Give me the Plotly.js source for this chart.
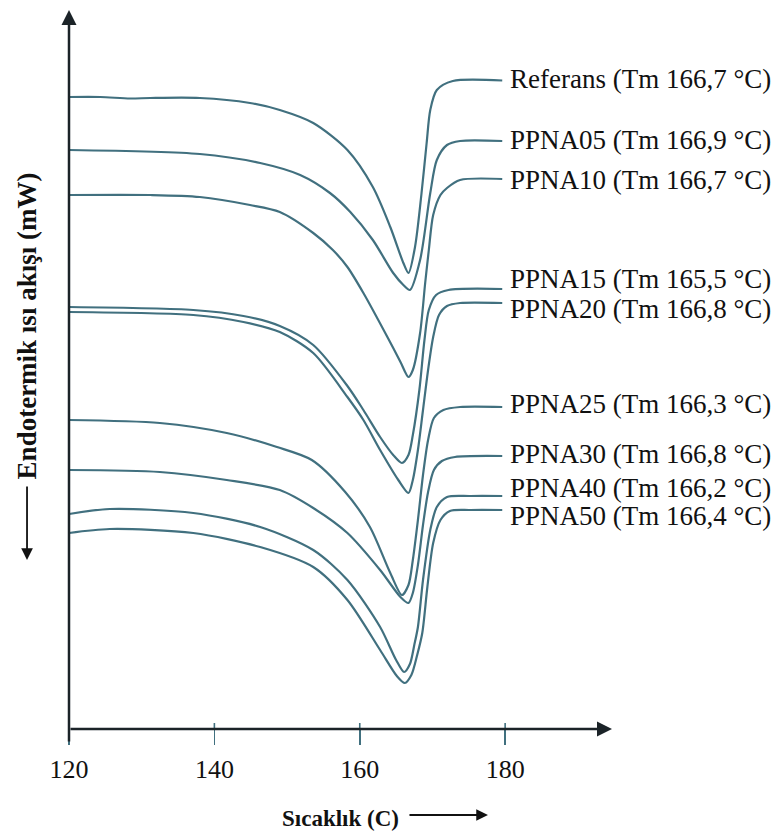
<!DOCTYPE html>
<html>
<head>
<meta charset="utf-8">
<script src="https://cdn.plot.ly/plotly-3.0.1.min.js"></script>
<style>html,body{margin:0;padding:0;background:#fff;}</style>
</head>
<body>
<div id="chart" style="width:783px;height:831px;"></div>
<script>
// ---- data (temperature in °C, heat flow in arbitrary mW offset units) ----
const sampleNames = ["Referans", "PPNA05", "PPNA10", "PPNA15", "PPNA20", "PPNA25", "PPNA30", "PPNA40", "PPNA50"];
const meltingPoints = [166.7, 166.9, 166.7, 165.5, 166.8, 166.3, 166.8, 166.2, 166.4];
const xTickValues = [120, 140, 160, 180];

const tReferans = [120.0, 124.3, 128.4, 131.2, 138.0, 144.9, 149.0, 153.6, 158.3, 161.8, 164.2, 166.0, 166.7, 167.6, 168.5, 169.2, 169.7, 170.6, 172.8, 179.6];
const yReferans = [63.2, 63.2, 63.05, 63.1, 63.1, 62.6, 61.9, 60.6, 57.9, 54.2, 50.2, 46.6, 45.6, 48.2, 53.6, 58.6, 61.9, 63.9, 64.8, 64.85];

const tPPNA05 = [120.0, 138.0, 146.3, 151.8, 155.9, 158.7, 161.8, 164.6, 166.0, 166.9, 168.3, 169.7, 170.6, 172.0, 173.8, 179.6];
const yPPNA05 = [57.9, 57.5, 56.6, 55.4, 53.6, 51.7, 48.9, 45.6, 44.4, 43.9, 46.9, 53.6, 56.9, 58.4, 58.8, 58.8];

const tPPNA10 = [120.0, 131.2, 138.0, 144.9, 149.0, 153.6, 156.3, 158.3, 160.5, 163.8, 165.6, 166.7, 167.3, 168.3, 169.0, 169.5, 170.1, 171.1, 172.0, 173.8, 179.6];
const yPPNA10 = [53.4, 53.4, 53.2, 52.4, 51.7, 49.6, 47.9, 46.2, 43.6, 39.2, 36.7, 35.2, 35.9, 39.6, 44.6, 47.9, 51.4, 53.4, 54.1, 54.9, 55.0];

const tPPNA15 = [120.0, 137.1, 144.0, 149.0, 153.6, 158.3, 160.5, 162.8, 164.6, 165.8, 166.7, 167.3, 168.2, 168.9, 169.5, 170.5, 172.2, 179.6];
const yPPNA15 = [42.2, 41.9, 41.3, 40.3, 38.4, 34.3, 31.9, 29.2, 27.4, 26.6, 27.4, 29.4, 33.9, 38.9, 41.9, 43.4, 43.9, 44.0];

const tPPNA20 = [120.0, 137.1, 144.0, 149.0, 153.6, 158.3, 160.5, 162.8, 165.3, 166.7, 167.3, 168.0, 168.7, 169.4, 170.1, 170.9, 172.0, 173.8, 179.6];
const yPPNA20 = [41.7, 41.4, 40.7, 39.7, 37.6, 33.2, 30.9, 27.9, 24.9, 23.6, 24.9, 27.9, 31.9, 35.9, 39.2, 41.4, 42.3, 42.6, 42.6];

const tPPNA25 = [120.0, 132.5, 141.7, 148.6, 153.4, 158.0, 161.4, 164.2, 165.8, 166.7, 167.3, 168.0, 168.7, 169.4, 170.2, 171.5, 173.8, 179.6];
const yPPNA25 = [30.9, 30.6, 29.6, 28.2, 26.9, 23.7, 20.2, 15.6, 13.4, 14.4, 16.9, 20.9, 25.4, 28.9, 31.1, 31.9, 32.2, 32.2];

const tPPNA30 = [120.0, 132.5, 141.7, 149.0, 153.6, 158.3, 162.8, 165.6, 166.7, 167.3, 168.0, 168.7, 169.4, 170.2, 171.3, 173.1, 179.6];
const yPPNA30 = [25.9, 25.7, 24.9, 23.9, 22.1, 19.6, 15.9, 13.2, 12.6, 13.6, 16.4, 20.4, 23.7, 25.9, 26.8, 27.2, 27.3];

const tPPNA40 = [120.0, 125.6, 137.1, 146.3, 153.6, 158.3, 162.8, 165.0, 166.1, 166.9, 167.5, 168.0, 168.7, 169.7, 170.6, 172.0, 175.2, 179.6];
const yPPNA40 = [21.5, 22.0, 21.6, 20.2, 17.9, 14.9, 10.2, 6.9, 5.7, 6.5, 8.4, 10.2, 14.9, 19.9, 22.2, 23.2, 23.3, 23.3];

const tPPNA50 = [120.0, 125.6, 137.1, 146.3, 153.6, 158.3, 162.8, 165.1, 166.2, 167.1, 167.9, 168.6, 169.3, 170.1, 171.1, 172.4, 175.2, 179.6];
const yPPNA50 = [19.6, 20.0, 19.6, 18.2, 16.2, 12.9, 7.9, 5.3, 4.6, 5.4, 7.4, 9.6, 14.2, 18.6, 20.9, 21.8, 21.9, 21.9];

// ---- layout helpers (vertical positions of the right-hand labels, in y units) ----
const labelPos = [65.0, 58.9, 54.9, 45.05, 42.05, 32.5, 27.5, 24.1, 21.3];

const tSeries = [tReferans, tPPNA05, tPPNA10, tPPNA15, tPPNA20, tPPNA25, tPPNA30, tPPNA40, tPPNA50];
const ySeries = [yReferans, yPPNA05, yPPNA10, yPPNA15, yPPNA20, yPPNA25, yPPNA30, yPPNA40, yPPNA50];

const lineColor = '#41707f';
const axisColor = '#1b2328';
const serif = 'Liberation Serif, Times New Roman, serif';

const traces = sampleNames.map((n, i) => ({
  type: 'scatter', mode: 'lines', name: n,
  x: tSeries[i], y: ySeries[i],
  line: {color: lineColor, width: 2.2, shape: 'spline', smoothing: 0.8},
  hoverinfo: 'x+y+name'
}));

const xMin = 120, xMax = 194.7, yMin = 0, yMax = 71.9;

const annotations = sampleNames.map((n, i) => ({
  x: 180.4, y: labelPos[i], xref: 'x', yref: 'y',
  xanchor: 'left', yanchor: 'middle', showarrow: false,
  text: n + ' (Tm ' + meltingPoints[i].toFixed(1).replace('.', ',') + ' °C)',
  font: {family: serif, size: 27, color: '#111'}
}));

// axis arrows
annotations.push({
  x: xMax, y: 0, ax: xMin, ay: 0, xref: 'x', yref: 'y', axref: 'x', ayref: 'y',
  text: '', showarrow: true, arrowhead: 2, arrowsize: 1.2, arrowwidth: 2.5, arrowcolor: axisColor
});
annotations.push({
  x: xMin, y: yMax, ax: xMin, ay: -1.4, xref: 'x', yref: 'y', axref: 'x', ayref: 'y',
  text: '', showarrow: true, arrowhead: 2, arrowsize: 1.2, arrowwidth: 2.5, arrowcolor: axisColor
});
// y-axis title and arrow
annotations.push({
  x: -0.0773, y: 0.56, xref: 'paper', yref: 'paper', xanchor: 'center', yanchor: 'middle',
  text: '<b>Endotermik ısı akışı (mW)</b>', textangle: -90, showarrow: false,
  font: {family: serif, size: 27, color: '#111'}
});
annotations.push({
  x: -0.0773, y: 0.235, xref: 'paper', yref: 'paper', ax: 0, ay: -75,
  text: '', showarrow: true, arrowhead: 2, arrowsize: 1.3, arrowwidth: 1.8, arrowcolor: '#111'
});
// x-axis title arrow
annotations.push({
  x: 0.7716, y: -0.1196, xref: 'paper', yref: 'paper', ax: -80, ay: 0,
  text: '', showarrow: true, arrowhead: 2, arrowsize: 1.3, arrowwidth: 1.8, arrowcolor: '#111'
});

// small upper parts of the tick marks (ticks cross the axis line)
const shapes = xTickValues.map(v => ({
  type: 'line', xref: 'x', yref: 'y', x0: v, x1: v, y0: 0, y1: 0.6,
  line: {color: lineColor, width: 1.6}
}));

const layout = {
  width: 783, height: 831,
  margin: {l: 69, r: 171, t: 10, b: 102},
  paper_bgcolor: '#fff', plot_bgcolor: '#fff',
  showlegend: false,
  xaxis: {
    range: [xMin, xMax], showgrid: false, zeroline: false, showline: false,
    tickvals: xTickValues, ticktext: xTickValues.map(String),
    ticks: 'outside', ticklen: 15, tickwidth: 1.6, tickcolor: lineColor,
    ticklabelstandoff: 2,
    tickfont: {family: serif, size: 26, color: '#111'},
    title: {text: '<b>Sıcaklık (C)</b>', font: {family: serif, size: 23, color: '#111'}, standoff: 26},
    fixedrange: true
  },
  yaxis: {
    range: [yMin, yMax], showgrid: false, zeroline: false, showline: false,
    showticklabels: false, ticks: '', fixedrange: true
  },
  annotations: annotations,
  shapes: shapes
};

Plotly.newPlot('chart', traces, layout, {displayModeBar: false, staticPlot: true});
</script>
</body>
</html>
